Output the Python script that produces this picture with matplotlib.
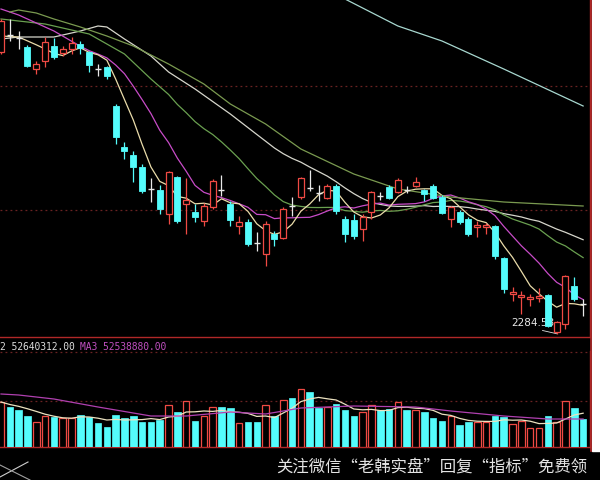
import matplotlib.pyplot as plt
import numpy as np
import pandas as pd

# --- K-line data (index points) ---
opens = [2848, 2882, 2876, 2858, 2814, 2830, 2860, 2846, 2854, 2864,
         2848, 2814, 2818, 2740, 2658, 2642, 2618, 2574, 2572, 2524,
         2598, 2544, 2528, 2510, 2538, 2572, 2544, 2500, 2508, 2466,
         2444, 2484, 2476, 2540, 2558, 2576, 2566, 2556, 2580, 2514,
         2512, 2494, 2528, 2560, 2578, 2568, 2572, 2580, 2572, 2580,
         2558, 2514, 2528, 2514, 2498, 2498, 2500, 2436, 2364, 2358,
         2354, 2356, 2362, 2288, 2304, 2380, 2344]
closes = [2910, 2882, 2876, 2820, 2824, 2868, 2838, 2854, 2866, 2856,
          2822, 2814, 2800, 2678, 2650, 2618, 2570, 2574, 2534, 2608,
          2510, 2552, 2518, 2540, 2590, 2572, 2512, 2508, 2464, 2466,
          2504, 2474, 2534, 2540, 2596, 2576, 2566, 2580, 2530, 2484,
          2480, 2518, 2568, 2560, 2556, 2592, 2572, 2588, 2564, 2556,
          2526, 2538, 2508, 2484, 2502, 2502, 2440, 2374, 2368, 2362,
          2358, 2360, 2300, 2308, 2400, 2354, 2344]
highs = [2914, 2914, 2890, 2862, 2830, 2878, 2876, 2860, 2878, 2870,
         2850, 2824, 2820, 2744, 2668, 2650, 2624, 2596, 2582, 2610,
         2600, 2596, 2544, 2546, 2594, 2602, 2550, 2520, 2514, 2488,
         2510, 2490, 2538, 2558, 2598, 2612, 2582, 2584, 2584, 2520,
         2524, 2524, 2570, 2568, 2582, 2596, 2580, 2598, 2574, 2584,
         2562, 2540, 2532, 2518, 2510, 2506, 2502, 2438, 2378, 2370,
         2364, 2376, 2364, 2310, 2402, 2398, 2354]
lows = [2844, 2870, 2854, 2818, 2804, 2818, 2834, 2840, 2844, 2844,
        2808, 2800, 2794, 2664, 2634, 2588, 2566, 2548, 2524, 2504,
        2506, 2484, 2508, 2500, 2534, 2560, 2500, 2484, 2460, 2450,
        2420, 2460, 2474, 2520, 2554, 2570, 2550, 2554, 2524, 2468,
        2474, 2470, 2514, 2552, 2554, 2566, 2566, 2578, 2550, 2554,
        2524, 2498, 2504, 2480, 2478, 2484, 2434, 2366, 2350, 2324,
        2340, 2348, 2298, 2284.58, 2294, 2350, 2320]
# volume, millions of shares
volumes = [67.5, 60, 55.5, 46.5, 37.5, 46.5, 45, 43.5, 43.5, 48,
           45, 36, 30, 48, 43.5, 46.5, 37.5, 37.5, 40.5, 63,
           52.5, 69, 39, 46.5, 60, 60, 58.5, 36, 37.5, 37.5,
           63, 46.5, 70.5, 73.5, 87, 82.5, 58.5, 60, 64.5, 55.5,
           46.5, 52.5, 63, 55.5, 57, 67.5, 55.5, 55.5, 52.5, 43.5,
           39, 46.5, 33, 37.5, 37.5, 37.5, 46.5, 45, 34.5, 39,
           28.5, 28.5, 46.5, 37.5, 69, 58.5, 42]

ma5_head_idx = [0, 2]
ma5_head = [2880, 2878]
ma10_head_idx = [0, 2, 6]
ma10_head = [2934, 2922, 2890]
ma20_head_idx = [0, 5, 10, 14, 17]
ma20_head = [2914, 2904, 2884, 2844, 2794]
ma30_head_idx = [0, 2, 6, 9, 11, 12, 14, 17, 19, 22, 26]
ma30_head = [2874, 2878, 2878, 2890, 2900, 2898, 2874, 2840, 2808, 2774, 2724]
ma60_idx = [1, 2, 4, 6, 9, 12, 15, 19, 23, 26, 30, 34, 40, 45, 51, 57, 66]
ma60 = [2928, 2932, 2926, 2914, 2898, 2880, 2860, 2824, 2784, 2744,
        2704, 2654, 2604, 2574, 2558, 2548, 2540]
ma120_idx = [36, 39, 45, 50, 57, 66]
ma120 = [2978, 2954, 2900, 2870, 2814, 2740]
vol_ma_idx = [0, 2, 6, 11, 17, 21, 26, 30, 34, 40, 47, 51, 57, 62, 66]
vol_ma = [79.5, 78, 72, 60, 46.5, 46.5, 52.5, 49.5, 58.5, 61.5, 60, 54, 46.5, 42, 42]

low_label = "2284.58"
vol_text_1 = "2 52640312.00"
vol_text_2 = "MA3 52538880.00"
watermark = "关注微信\u201c老韩实盘\u201d回复\u201c指标\u201d免费领"

RED = '#f04a44'
CYAN = '#54fcfc'
GRID = '#6a2222'
W, H = 600, 481

fig = plt.figure(figsize=(6.0, 4.81), dpi=100)
fig.patch.set_facecolor('black')

ax = fig.add_axes([0, 1 - 338 / H, 590 / W, 338 / H])
axv = fig.add_axes([0, 1 - 448 / H, 590 / W, 96 / H])

n = len(closes)
x = np.arange(n)
o = np.array(opens, float); c = np.array(closes, float)
hi = np.array(highs, float); lo = np.array(lows, float)

for a in (ax, axv):
    a.set_facecolor('black')
    a.set_xlim(-0.113, 66.78)
    a.set_xticks([]); a.set_yticks([])
    for s in ('top', 'left'):
        a.spines[s].set_visible(False)
    for s in ('bottom', 'right'):
        a.spines[s].set_color('#b02828'); a.spines[s].set_linewidth(1.0)

ax.set_ylim(2278, 2954)
axv.set_ylim(0, 144)

for p in (2780, 2532):
    ax.axhline(p, color=GRID, lw=0.9, ls=(0, (1.5, 2.5)), zorder=0)
for v in (69, 142.5):
    axv.axhline(v, color=GRID, lw=0.9, ls=(0, (1.5, 2.5)), zorder=0)

# --- candles ---
bw = 0.68
up = c > o
dn = c < o
eq = c == o
top = np.maximum(o, c); bot = np.minimum(o, c)
col = np.where(up, RED, np.where(dn, CYAN, '#e8e8e8'))
ax.vlines(x, top, hi, colors=col, lw=0.9, zorder=3)
ax.vlines(x, lo, bot, colors=col, lw=0.9, zorder=3)
ax.bar(x[up], (c - o)[up], bottom=o[up], width=bw, facecolor='black',
       edgecolor=RED, lw=0.9, zorder=4)
ax.bar(x[dn], (o - c)[dn], bottom=c[dn], width=bw, facecolor=CYAN,
       edgecolor=CYAN, lw=0.6, zorder=4)
ax.hlines(c[eq], x[eq] - bw / 2, x[eq] + bw / 2, colors='#e8e8e8', lw=1.0, zorder=4)

# --- moving averages ---
cs = pd.Series(c)
def ma_line(head_idx, head_vals, win):
    r = cs.rolling(win).mean()
    xs = list(head_idx) + list(range(win - 1, n))
    ys = list(head_vals) + list(r.iloc[win - 1:])
    return xs, ys

for (hi_, hv, w, color) in [(ma30_head_idx, ma30_head, 30, '#d6d6cc'),
                            (ma20_head_idx, ma20_head, 20, '#6aa050'),
                            (ma10_head_idx, ma10_head, 10, '#c84cc8'),
                            (ma5_head_idx, ma5_head, 5, '#eadcaa')]:
    xs, ys = ma_line(hi_, hv, w)
    ax.plot(xs, ys, color=color, lw=0.9, zorder=2)
ax.plot(ma60_idx, ma60, color='#7a9a50', lw=0.9, zorder=2)
ax.plot(ma120_idx, ma120, color='#a8d8d0', lw=0.9, zorder=2)

ax.text(62.7, 2308, low_label, color='#e6e6e6', fontsize=7.5, ha='right',
        va='center', zorder=2)
ax.plot([61.4, 63], [2291, 2284.58], color='#e0e0e0', lw=0.6, zorder=2)

# --- volume ---
vol = np.array(volumes, float)
axv.bar(x[~up], vol[~up], width=0.74, facecolor=CYAN, edgecolor=CYAN, lw=0.5, zorder=3)
axv.bar(x[up], vol[up], width=0.74, facecolor='black', edgecolor=RED, lw=0.9, zorder=3)
vma5 = pd.Series(vol).rolling(5, min_periods=1).mean()
axv.plot(x, vma5, color='#ece2c0', lw=0.9, zorder=4)
axv.plot(vol_ma_idx, vol_ma, color='#b040b0', lw=0.9, zorder=4)

fig.text(0.5 / W, 1 - 347 / H, vol_text_1, color='#dcdcdc', fontsize=6.9,
         family='DejaVu Sans Mono', va='center')
fig.text(80 / W, 1 - 347 / H, vol_text_2, color='#c050c0', fontsize=6.9,
         family='DejaVu Sans Mono', va='center')

# frame pieces on the right
fig.add_artist(plt.Rectangle((592 / W, 1 - 452 / H), 8 / W, 452 / H,
                             transform=fig.transFigure, color='white', zorder=0))
fig.add_artist(plt.Line2D([590.5 / W, 590.5 / W], [1 - 452 / H, 1],
                          transform=fig.transFigure, color='#b02828', lw=1.2))

# edge of the next indicator pane, bottom left
fig.add_artist(plt.Line2D([0, 28 / W], [1 - 478 / H, 1 - 463 / H],
                          transform=fig.transFigure, color='#cfcfcf', lw=0.8))
fig.add_artist(plt.Line2D([0, 30 / W], [1 - 466 / H, 1 - 481 / H],
                          transform=fig.transFigure, color='#a0a0a0', lw=0.8))

fig.text(276 / W, 1 - 467 / H, watermark, color='#e4e4e4', fontsize=11.8,
         family=['Noto Sans CJK SC', 'DejaVu Sans'], va='center')

fig.savefig('out.png', dpi=100, facecolor='black')
